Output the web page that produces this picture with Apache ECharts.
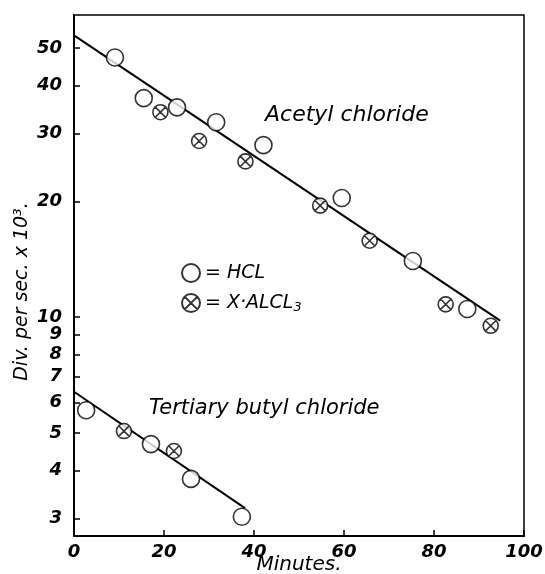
<!DOCTYPE html>
<html>
<head>
<meta charset="utf-8">
<script src="https://cdn.jsdelivr.net/npm/echarts@6/dist/echarts.min.js"></script>
<style>
html,body{margin:0;padding:0;background:#fff;}
#c{width:545px;height:574px;}
</style>
</head>
<body>
<div id="c"></div>
<script>
// ---- data ----
var acetylHclX = [9.1, 15.5, 22.9, 31.6, 42.1, 59.5, 75.3, 87.4];
var acetylHclY = [47.3, 37.1, 35.1, 32.1, 28.0, 20.4, 14.0, 10.5];
var acetylAlX = [19.2, 27.8, 38.1, 54.7, 65.7, 82.6, 92.6];
var acetylAlY = [34.1, 28.7, 25.4, 19.5, 15.8, 10.8, 9.5];
var tertHclX = [2.7, 17.1, 26.0, 37.3];
var tertHclY = [5.73, 4.68, 3.80, 3.03];
var tertAlX = [11.1, 22.2];
var tertAlY = [5.06, 4.49];
var acetylLineX = [0, 94.7];
var acetylLineY = [54, 9.8];
var tertLineX = [0, 38];
var tertLineY = [6.4, 3.19];
var yTicks = [3, 4, 5, 6, 7, 8, 9, 10, 20, 30, 40, 50];
var xTicks = [0, 20, 40, 60, 80, 100];

function pairs(xs, ys) { return xs.map(function (x, i) { return [x, ys[i]]; }); }

var crossSymbol = 'path://M0,10 A10,10 0 1,1 20,10 A10,10 0 1,1 0,10 Z M2.93,2.93 L17.07,17.07 M17.07,2.93 L2.93,17.07';
var FONT = 'DejaVu Sans';
var chart = echarts.init(document.getElementById('c'), null, { renderer: 'canvas' });

var hclStyle = { color: '#fff', borderColor: '#000', borderWidth: 1.6 };
var alStyle = { color: '#fff', borderColor: '#000', borderWidth: 1.6 };

chart.setOption({
  animation: false,
  backgroundColor: '#fff',
  grid: { left: 74, right: 21, top: 15, bottom: 38, show: true, borderColor: '#000', borderWidth: 1.5,
    backgroundColor: 'transparent', containLabel: false, outerBoundsMode: 'none' },
  xAxis: {
    type: 'value', min: 0, max: 100, interval: 20,
    name: 'Minutes.', nameLocation: 'middle', nameGap: 19, nameMoveOverlap: false,
    nameTextStyle: { fontFamily: FONT, fontStyle: 'italic', fontSize: 20, color: '#000' },
    axisLine: { show: true, lineStyle: { color: '#000', width: 2 } },
    axisTick: { show: true, inside: true, length: 6, lineStyle: { color: '#000', width: 1.5 } },
    axisLabel: { fontFamily: FONT, fontStyle: 'italic', fontWeight: 'bold', fontSize: 18, color: '#000', margin: 7, customValues: xTicks },
    splitLine: { show: false }
  },
  yAxis: {
    type: 'log', logBase: 10, min: 2.7, max: 61,
    name: 'Div. per sec. x 10\u00B3.', nameLocation: 'middle', nameGap: 42, nameRotate: 90, nameMoveOverlap: false,
    nameTextStyle: { fontFamily: FONT, fontStyle: 'italic', fontSize: 19, color: '#000', padding: [0, 32, 0, 0] },
    axisLine: { show: true, lineStyle: { color: '#000', width: 2 } },
    axisTick: { show: true, inside: true, length: 6, lineStyle: { color: '#000', width: 1.5 }, customValues: yTicks },
    axisLabel: { fontFamily: FONT, fontStyle: 'italic', fontWeight: 'bold', fontSize: 18, color: '#000', margin: 12, customValues: yTicks },
    splitLine: { show: false },
    minorTick: { show: false }
  },
  legend: {
    orient: 'vertical', left: 176, top: 258, itemWidth: 18, itemHeight: 18, itemGap: 10,
    data: ['HCL', 'X·ALCL3'],
    selectedMode: false,
    formatter: function (n) { return n === 'HCL' ? '= HCL' : '= X·ALCL{s|3}'; },
    textStyle: { fontFamily: FONT, fontStyle: 'italic', fontSize: 19, color: '#000',
      rich: { s: { fontFamily: FONT, fontStyle: 'italic', fontSize: 13, color: '#000', padding: [10, 0, 0, 0] } } }
  },
  graphic: [
    { type: 'text', left: 265, top: 104, style: { text: 'Acetyl chloride', font: 'italic 22px "DejaVu Sans"', fill: '#000' } },
    { type: 'text', left: 149, top: 398, style: { text: 'Tertiary butyl chloride', font: 'italic 21px "DejaVu Sans"', fill: '#000' } }
  ],
  series: [
    { type: 'line', data: pairs(acetylLineX, acetylLineY), symbol: 'none', lineStyle: { color: '#000', width: 2 }, z: 1, silent: true },
    { type: 'line', data: pairs(tertLineX, tertLineY), symbol: 'none', lineStyle: { color: '#000', width: 2 }, z: 1, silent: true },
    { name: 'HCL', type: 'scatter', data: pairs(acetylHclX, acetylHclY), symbol: 'circle', symbolSize: 17, itemStyle: hclStyle, z: 3 },
    { name: 'X·ALCL3', type: 'scatter', data: pairs(acetylAlX, acetylAlY), symbol: crossSymbol, symbolSize: 15, itemStyle: alStyle, z: 3 },
    { name: 'HCL', type: 'scatter', data: pairs(tertHclX, tertHclY), symbol: 'circle', symbolSize: 17, itemStyle: hclStyle, z: 3 },
    { name: 'X·ALCL3', type: 'scatter', data: pairs(tertAlX, tertAlY), symbol: crossSymbol, symbolSize: 15, itemStyle: alStyle, z: 3 }
  ]
});
</script>
</body>
</html>
